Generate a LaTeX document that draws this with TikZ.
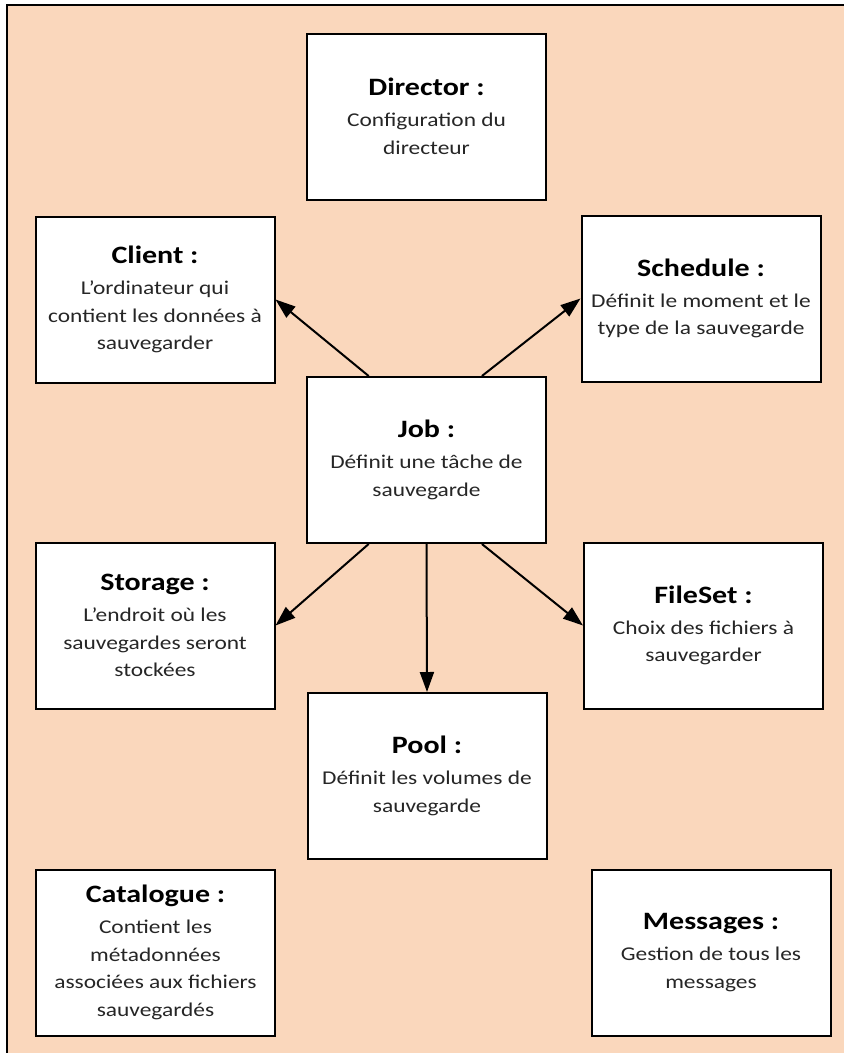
\documentclass[tikz,border=0pt]{standalone}
\usepackage{fontspec}
\setmainfont[FakeStretch=1.2]{Carlito}
\usetikzlibrary{arrows.meta,calc,shadows}
\definecolor{peach}{RGB}{250,215,188}
\definecolor{bodytext}{RGB}{38,38,38}
\tikzset{
  box/.style={draw=black, line width=2pt, fill=white,
    minimum width=239pt, minimum height=166pt, inner sep=0pt,
    align=center, font=\fontsize{19.5}{27.5}\selectfont, text=bodytext,
    drop shadow={shadow xshift=1.2pt, shadow yshift=-1.2pt, opacity=0.35, fill=black}},
  conn/.style={line width=2pt, draw=black, -{Triangle[length=20pt,width=14pt]}},
}
\newcommand{\boxtitle}[1]{{\fontsize{25}{27.5}\selectfont\bfseries\color{black}#1}\\[3.5pt]}
\begin{document}
\begin{tikzpicture}[x=1pt,y=-1pt]
\useasboundingbox (0,0) rectangle (844,1053);
\fill[peach] (7,5) rectangle (844,1053);
\draw[line width=1.5pt] (7,1053) -- (7,5) -- (844,5);

\node[box] (director) at (426.5,116.5) {\boxtitle{Director :}Configuration du\\directeur};
\node[box] (client) at (155,299.5) {\boxtitle{Client :}L’ordinateur qui\\contient les données à\\sauvegarder};
\node[box] (schedule) at (701,298.5) {\boxtitle{Schedule :}Définit le moment et le\\type de la sauvegarde};
\node[box] (job) at (426.5,460) {\boxtitle{Job :}Définit une tâche de\\sauvegarde};
\node[box] (storage) at (155,625.5) {\boxtitle{Storage :}L’endroit où les\\sauvegardes seront\\stockées};
\node[box] (fileset) at (703.5,625.5) {\boxtitle{FileSet :}Choix des fichiers à\\sauvegarder};
\node[box] (pool) at (427,776) {\boxtitle{Pool :}Définit les volumes de\\sauvegarde};
\node[box] (catalogue) at (155.5,952.5) {\boxtitle{Catalogue :}Contient les\\métadonnées\\associées aux fichiers\\sauvegardés};
\node[box] (messages) at (711,952.5) {\boxtitle{Messages :}Gestion de tous les\\messages};

\draw[conn] ($(job.north west)!0.26!(job.north east)$) -- (client.east);
\draw[conn] ($(job.north west)!0.73!(job.north east)$) -- (schedule.west);
\draw[conn] ($(job.south west)!0.26!(job.south east)$) -- (storage.east);
\draw[conn] ($(job.south west)!0.73!(job.south east)$) -- (fileset.west);
\draw[conn] (job.south) -- (pool.north);
\end{tikzpicture}
\end{document}
